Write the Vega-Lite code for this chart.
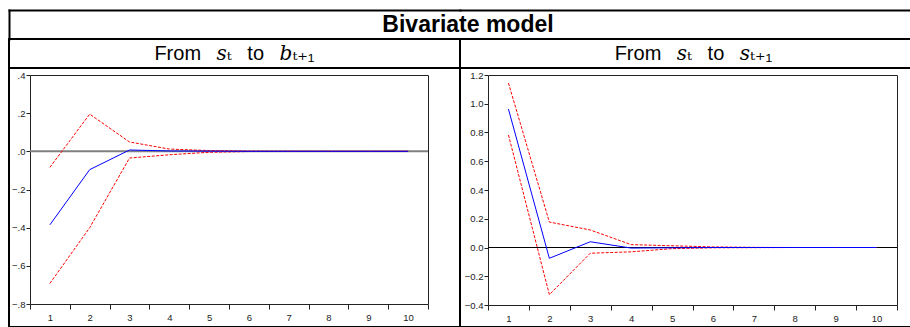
{
  "$schema": "https://vega.github.io/schema/vega-lite/v6.json",
  "padding": {"left": 8, "top": 10, "right": 0, "bottom": 0},
  "background": "#ffffff",
  "columns": 2,
  "spacing": 0,
  "bounds": "flush",
  "config": {
    "view": {"stroke": null},
    "font": "Liberation Sans",
    "axis": {"labelFont": "Liberation Sans", "labelFontSize": 9.5, "labelColor": "#222222", "domainColor": "#222222", "tickColor": "#222222", "domainWidth": 1, "tickWidth": 1, "grid": false, "title": null}
  },
  "datasets": {
    "irf": [
      {"p": "b", "h": 1, "s": "resp", "v": -0.385}, {"p": "b", "h": 1, "s": "up", "v": -0.084}, {"p": "b", "h": 1, "s": "lo", "v": -0.692},
      {"p": "b", "h": 2, "s": "resp", "v": -0.096}, {"p": "b", "h": 2, "s": "up", "v": 0.195}, {"p": "b", "h": 2, "s": "lo", "v": -0.400},
      {"p": "b", "h": 3, "s": "resp", "v": 0.007}, {"p": "b", "h": 3, "s": "up", "v": 0.049}, {"p": "b", "h": 3, "s": "lo", "v": -0.035},
      {"p": "b", "h": 4, "s": "resp", "v": 0.002}, {"p": "b", "h": 4, "s": "up", "v": 0.012}, {"p": "b", "h": 4, "s": "lo", "v": -0.018},
      {"p": "b", "h": 5, "s": "resp", "v": 0.001}, {"p": "b", "h": 5, "s": "up", "v": 0.004}, {"p": "b", "h": 5, "s": "lo", "v": -0.005},
      {"p": "b", "h": 6, "s": "resp", "v": 0.0}, {"p": "b", "h": 6, "s": "up", "v": 0.001}, {"p": "b", "h": 6, "s": "lo", "v": -0.001},
      {"p": "b", "h": 7, "s": "resp", "v": 0.0}, {"p": "b", "h": 7, "s": "up", "v": 0.0005}, {"p": "b", "h": 7, "s": "lo", "v": -0.0005},
      {"p": "b", "h": 8, "s": "resp", "v": 0.0}, {"p": "b", "h": 8, "s": "up", "v": 0.0}, {"p": "b", "h": 8, "s": "lo", "v": 0.0},
      {"p": "b", "h": 9, "s": "resp", "v": 0.0}, {"p": "b", "h": 9, "s": "up", "v": 0.0}, {"p": "b", "h": 9, "s": "lo", "v": 0.0},
      {"p": "b", "h": 10, "s": "resp", "v": 0.0}, {"p": "b", "h": 10, "s": "up", "v": 0.0}, {"p": "b", "h": 10, "s": "lo", "v": 0.0},
      {"p": "s", "h": 1, "s": "resp", "v": 0.963}, {"p": "s", "h": 1, "s": "up", "v": 1.144}, {"p": "s", "h": 1, "s": "lo", "v": 0.783},
      {"p": "s", "h": 2, "s": "resp", "v": -0.075}, {"p": "s", "h": 2, "s": "up", "v": 0.177}, {"p": "s", "h": 2, "s": "lo", "v": -0.328},
      {"p": "s", "h": 3, "s": "resp", "v": 0.040}, {"p": "s", "h": 3, "s": "up", "v": 0.122}, {"p": "s", "h": 3, "s": "lo", "v": -0.040},
      {"p": "s", "h": 4, "s": "resp", "v": -0.004}, {"p": "s", "h": 4, "s": "up", "v": 0.020}, {"p": "s", "h": 4, "s": "lo", "v": -0.030},
      {"p": "s", "h": 5, "s": "resp", "v": -0.002}, {"p": "s", "h": 5, "s": "up", "v": 0.012}, {"p": "s", "h": 5, "s": "lo", "v": -0.008},
      {"p": "s", "h": 6, "s": "resp", "v": 0.0}, {"p": "s", "h": 6, "s": "up", "v": 0.004}, {"p": "s", "h": 6, "s": "lo", "v": -0.002},
      {"p": "s", "h": 7, "s": "resp", "v": 0.0}, {"p": "s", "h": 7, "s": "up", "v": 0.001}, {"p": "s", "h": 7, "s": "lo", "v": -0.001},
      {"p": "s", "h": 8, "s": "resp", "v": 0.0}, {"p": "s", "h": 8, "s": "up", "v": 0.0}, {"p": "s", "h": 8, "s": "lo", "v": 0.0},
      {"p": "s", "h": 9, "s": "resp", "v": 0.0}, {"p": "s", "h": 9, "s": "up", "v": 0.0}, {"p": "s", "h": 9, "s": "lo", "v": 0.0},
      {"p": "s", "h": 10, "s": "resp", "v": 0.0}, {"p": "s", "h": 10, "s": "up", "v": 0.0}, {"p": "s", "h": 10, "s": "lo", "v": 0.0}
    ]
  },
  "concat": [
    {
      "width": 451, "height": 29,
      "data": {"values": [{"t": "Bivariate model", "x": 0.5, "y": 0.5}]},
      "mark": {"type": "text", "font": "Liberation Sans", "fontWeight": "bold", "fontSize": 23, "color": "#000000"},
      "encoding": {
        "x": {"field": "x", "type": "quantitative", "scale": {"domain": [0, 0.4913], "nice": false, "zero": false}, "axis": {"orient": "top", "labels": false, "ticks": false, "domainWidth": 2, "domainColor": "#000000", "domainCap": "square"}},
        "y": {"field": "y", "type": "quantitative", "scale": {"domain": [0, 1], "nice": false, "zero": false}, "axis": {"orient": "left", "labels": false, "ticks": false, "domainWidth": 2, "domainColor": "#000000", "domainCap": "square"}},
        "text": {"field": "t"}
      }
    },
    {
      "width": 467, "height": 29,
      "data": {"values": []},
      "mark": {"type": "text"},
      "encoding": {
        "x": {"field": "x", "type": "quantitative", "scale": {"domain": [0, 1], "nice": false, "zero": false}, "axis": {"orient": "top", "labels": false, "ticks": false, "domainWidth": 2, "domainColor": "#000000", "domainCap": "square"}},
        "y": {"field": "y", "type": "quantitative", "scale": {"domain": [0, 1], "nice": false, "zero": false}, "axis": null},
        "text": {"field": "t"}
      }
    },
    {
      "width": 451, "height": 29,
      "view": {"stroke": "#000000", "strokeWidth": 2},
      "data": {"values": [{"t": "From\u2002 𝑠ₜ\u2002 to\u2002 𝑏ₜ₊₁"}]},
      "mark": {"type": "text", "font": "Liberation Sans, DejaVu Serif", "fontSize": 20, "color": "#000000"},
      "encoding": {"text": {"field": "t"}}
    },
    {
      "width": 467, "height": 29,
      "view": {"stroke": "#000000", "strokeWidth": 2},
      "data": {"values": [{"t": "From\u2002 𝑠ₜ\u2002 to\u2002 𝑠ₜ₊₁"}]},
      "mark": {"type": "text", "font": "Liberation Sans, DejaVu Serif", "fontSize": 20, "color": "#000000"},
      "encoding": {"text": {"field": "t"}}
    },
    {
      "width": 451, "height": 259,
      "view": {"stroke": "#000000", "strokeWidth": 2},
      "resolve": {"axis": {"x": "independent", "y": "independent"}},
      "layer": [
        {
          "data": {"values": [{"a": 1, "b": 10, "z": 0}]},
          "mark": {"type": "rule", "color": "#808080", "strokeWidth": 2},
          "encoding": {
            "x": {"field": "a", "type": "ordinal", "bandPosition": 0, "axis": null, "scale": {"type": "band", "domain": [1,2,3,4,5,6,7,8,9,10], "range": [21, 419], "paddingInner": 0, "paddingOuter": 0}},
            "x2": {"field": "b", "bandPosition": 1},
            "y": {"field": "z", "type": "quantitative", "axis": null, "scale": {"domain": [-0.8, 0.4], "range": [236, 7], "nice": false, "zero": false}}
          }
        },
        {
          "data": {"name": "irf"},
          "transform": [{"filter": "datum.p === 'b' && datum.s !== 'resp'"}],
          "mark": {"type": "line", "color": "#ff0000", "strokeWidth": 1, "strokeDash": [3, 1.5]},
          "encoding": {
            "x": {"field": "h", "type": "ordinal", "axis": {"orient": "top", "offset": -7, "labels": false, "ticks": false, "domain": true}},
            "y": {"field": "v", "type": "quantitative", "axis": {"orient": "right", "offset": -32, "labels": false, "ticks": false, "domain": true}},
            "detail": {"field": "s"}
          }
        },
        {
          "data": {"name": "irf"},
          "transform": [{"filter": "datum.p === 'b' && datum.s === 'resp'"}],
          "mark": {"type": "line", "color": "#0000ff", "strokeWidth": 1},
          "encoding": {
            "x": {"field": "h", "type": "ordinal", "axis": {"orient": "bottom", "offset": -23, "tickBand": "extent", "labelAngle": 0, "tickSize": 5, "labelPadding": 3}},
            "y": {"field": "v", "type": "quantitative", "axis": {"orient": "left", "offset": -21, "values": [-0.8, -0.6, -0.4, -0.2, 0, 0.2, 0.4], "labelExpr": "replace(format(datum.value, '.1f'), '0.', '.')", "tickSize": 4, "labelPadding": 1}}
          }
        }
      ]
    },
    {
      "width": 467, "height": 259,
      "view": {"stroke": "#000000", "strokeWidth": 2},
      "resolve": {"axis": {"x": "independent", "y": "independent"}},
      "layer": [
        {
          "data": {"values": [{"a": 1, "b": 10, "z": 0}]},
          "mark": {"type": "rule", "color": "#000000", "strokeWidth": 1},
          "encoding": {
            "x": {"field": "a", "type": "ordinal", "bandPosition": 0, "axis": null, "scale": {"type": "band", "domain": [1,2,3,4,5,6,7,8,9,10], "range": [28, 437], "paddingInner": 0, "paddingOuter": 0}},
            "x2": {"field": "b", "bandPosition": 1},
            "y": {"field": "z", "type": "quantitative", "axis": null, "scale": {"domain": [-0.4, 1.2], "range": [237, 7], "nice": false, "zero": false}}
          }
        },
        {
          "data": {"name": "irf"},
          "transform": [{"filter": "datum.p === 's' && datum.s !== 'resp'"}],
          "mark": {"type": "line", "color": "#ff0000", "strokeWidth": 1, "strokeDash": [3, 1.5]},
          "encoding": {
            "x": {"field": "h", "type": "ordinal", "axis": {"orient": "top", "offset": -7, "labels": false, "ticks": false, "domain": true}},
            "y": {"field": "v", "type": "quantitative", "axis": {"orient": "right", "offset": -30, "labels": false, "ticks": false, "domain": true}},
            "detail": {"field": "s"}
          }
        },
        {
          "data": {"name": "irf"},
          "transform": [{"filter": "datum.p === 's' && datum.s === 'resp'"}],
          "mark": {"type": "line", "color": "#0000ff", "strokeWidth": 1},
          "encoding": {
            "x": {"field": "h", "type": "ordinal", "axis": {"orient": "bottom", "offset": -22, "tickBand": "extent", "labelAngle": 0, "tickSize": 5, "labelPadding": 3}},
            "y": {"field": "v", "type": "quantitative", "axis": {"orient": "left", "offset": -28, "values": [-0.4, -0.2, 0, 0.2, 0.4, 0.6, 0.8, 1.0, 1.2], "format": ".1f", "tickSize": 4, "labelPadding": 1}}
          }
        }
      ]
    }
  ]
}
